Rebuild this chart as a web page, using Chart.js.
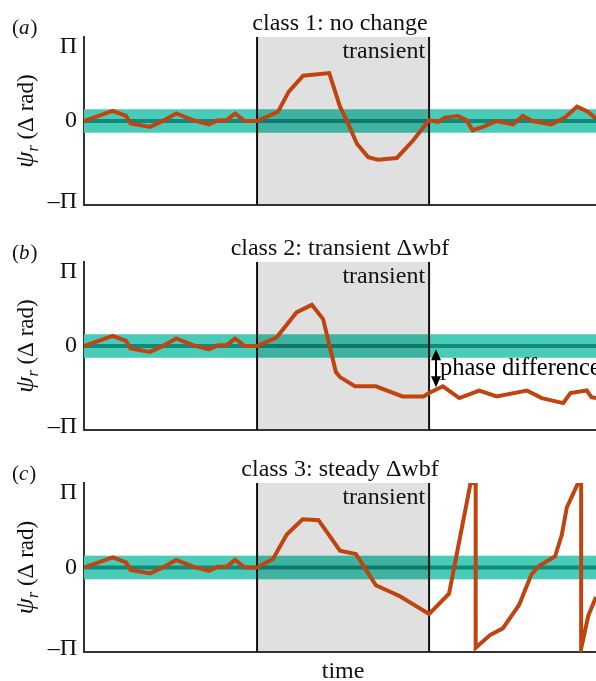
<!DOCTYPE html>
<html>
<head>
<meta charset="utf-8">
<script src="https://cdn.jsdelivr.net/npm/chart.js@4.4.1/dist/chart.umd.min.js"></script>
<style>
  body { margin: 0; background: #fff; width: 596px; height: 681px; overflow: hidden; position: relative; }
  canvas { position: absolute; left: 0; }
</style>
</head>
<body>
<canvas id="panel-a" width="596" height="215" style="top:0px"></canvas>
<canvas id="panel-b" width="596" height="215" style="top:225px"></canvas>
<canvas id="panel-c" width="596" height="235" style="top:446px"></canvas>
<script>
// phase values are in units of PI, time in arbitrary units (0..100)
const timePre = [0, 5.6, 8.2, 9.1, 12.9, 15.4, 18.0, 21.3, 24.4, 26.2, 27.9, 29.5, 31.4, 33.8];
const psiPre = [0, 0.12, 0.06, -0.03, -0.07, 0, 0.09, 0.01, -0.04, 0.01, 0.01, 0.09, 0, 0];

const timeA = [37.9, 40.0, 42.8, 47.9, 50.0, 51.3, 53.3, 55.5, 57.4, 61.1, 64.3, 67.4, 69.1, 70.5, 73.0, 74.7, 75.9, 77.9, 80.6, 83.8, 85.7, 87.6, 91.3, 93.9, 96.3, 98.4, 100];
const psiA = [0.11, 0.35, 0.54, 0.57, 0.17, 0.01, -0.27, -0.43, -0.46, -0.44, -0.23, 0.01, -0.01, 0.04, 0.06, 0.01, -0.11, -0.07, 0, -0.04, 0.06, 0, -0.04, 0.04, 0.17, 0.11, 0.03];

const timeB = [37.6, 41.5, 44.5, 46.7, 49.2, 50.0, 52.9, 57.0, 62.2, 66.3, 67.4, 70.1, 73.3, 77.2, 80.6, 86.5, 89.4, 93.6, 95.0, 98.2, 99.1, 100];
const psiB = [0.10, 0.40, 0.49, 0.32, -0.31, -0.37, -0.48, -0.48, -0.60, -0.60, -0.56, -0.48, -0.62, -0.53, -0.60, -0.53, -0.62, -0.68, -0.56, -0.53, -0.61, -0.62];

const timeC = [36.9, 39.6, 42.7, 45.8, 50.0, 53.1, 57.0, 61.7, 67.4, 71.3, 75.5, 76.5, 76.5, 79.3, 81.8, 85.0, 87.4, 88.9, 92.0, 93.3, 94.3, 96.5, 97.1, 97.1, 98.5, 100];
const psiC = [0.10, 0.39, 0.57, 0.56, 0.20, 0.16, -0.21, -0.34, -0.55, -0.31, 1.0, 1.0, -0.95, -0.80, -0.72, -0.44, -0.08, 0.02, 0.13, 0.38, 0.71, 1.0, 1.0, -0.96, -0.57, -0.35];

const yTickValues = [1, 0, -1];
const yTickLabels = ['Π', '0', '–Π'];

const transientStart = 33.8;
const transientEnd = 67.4;
const bandHalfWidth = 0.14;

// phase difference arrow (panel b)
const phaseArrowTime = 68.75;
const phaseArrowFrom = -0.04;
const phaseArrowTo = -0.49;

const SERIF = '"Liberation Serif", "DejaVu Serif", serif';

function arrowHead(ctx, x, y, dir) {
    ctx.beginPath();
    ctx.moveTo(x, y);
    ctx.lineTo(x - 5, y - dir * 11);
    ctx.lineTo(x + 5, y - dir * 11);
    ctx.closePath();
    ctx.fill();
}

const decorPlugin = {
    id: 'decor',
    beforeDatasetsDraw(chart) {
        const { ctx, chartArea: a, scales: { x, y } } = chart;
        ctx.save();

        // tolerance band + zero line
        const bandTop = y.getPixelForValue(bandHalfWidth);
        const bandBottom = y.getPixelForValue(-bandHalfWidth);
        ctx.fillStyle = '#48ccb8';
        ctx.fillRect(a.left, bandTop, a.right - a.left, bandBottom - bandTop);
        const y0 = y.getPixelForValue(0);
        ctx.strokeStyle = '#10897a';
        ctx.lineWidth = 4;
        ctx.beginPath();
        ctx.moveTo(a.left, y0);
        ctx.lineTo(a.right, y0);
        ctx.stroke();

        // transient window
        const x0 = x.getPixelForValue(transientStart);
        const x1 = x.getPixelForValue(transientEnd);
        ctx.fillStyle = 'rgba(0,0,0,0.12)';
        ctx.fillRect(x0, a.top, x1 - x0, a.bottom - a.top - 1);
        ctx.strokeStyle = '#111';
        ctx.lineWidth = 2;
        ctx.beginPath();
        ctx.moveTo(x0, a.top);
        ctx.lineTo(x0, a.bottom);
        ctx.moveTo(x1, a.top);
        ctx.lineTo(x1, a.bottom);
        ctx.stroke();

        ctx.fillStyle = '#111';
        ctx.font = '24px ' + SERIF;
        ctx.textAlign = 'right';
        ctx.textBaseline = 'alphabetic';
        ctx.fillText('transient', x1 - 4, y.getPixelForValue(0.75));
        ctx.restore();
    },
    afterDraw(chart, args, opts) {
        const { ctx, chartArea: a, scales: { x, y } } = chart;
        ctx.save();
        ctx.fillStyle = '#111';
        ctx.textBaseline = 'alphabetic';

        // title
        ctx.font = '24px ' + SERIF;
        ctx.textAlign = 'center';
        ctx.fillText(opts.title, (a.left + a.right) / 2, 30);

        // panel letter
        ctx.textAlign = 'left';
        ctx.font = '21px ' + SERIF;
        let px = 12;
        ctx.fillText('(', px, 34);
        px += ctx.measureText('(').width;
        ctx.font = 'italic 21px ' + SERIF;
        ctx.fillText(opts.letter, px, 34);
        px += ctx.measureText(opts.letter).width;
        ctx.font = '21px ' + SERIF;
        ctx.fillText(')', px + 1, 34);

        // y tick labels
        ctx.font = '24px ' + SERIF;
        ctx.textAlign = 'right';
        ctx.textBaseline = 'middle';
        yTickValues.forEach((v, i) => {
            let ty = y.getPixelForValue(v);
            ty = Math.min(Math.max(ty, a.top + 10), a.bottom - 3);
            ctx.fillText(yTickLabels[i], a.left - 7, ty);
        });

        // y axis title: psi_r (Δ rad)
        ctx.save();
        ctx.translate(a.left - 57, (a.top + a.bottom) / 2);
        ctx.rotate(-Math.PI / 2);
        ctx.textAlign = 'left';
        ctx.textBaseline = 'alphabetic';
        const fPsi = 'italic 26px ' + SERIF;
        const fSub = 'italic 16px ' + SERIF;
        const fRest = '23px ' + SERIF;
        ctx.font = fPsi; const wPsi = ctx.measureText('ψ').width;
        ctx.font = fSub; const wSub = ctx.measureText('r').width;
        ctx.font = fRest; const wRest = ctx.measureText(' (Δ rad)').width;
        let lx = -(wPsi + wSub + wRest) / 2;
        ctx.font = fPsi; ctx.fillText('ψ', lx, 6); lx += wPsi;
        ctx.font = fSub; ctx.fillText('r', lx, 11); lx += wSub;
        ctx.font = fRest; ctx.fillText(' (Δ rad)', lx, 6);
        ctx.restore();

        // x axis title
        if (opts.xTitle) {
            ctx.font = '24px ' + SERIF;
            ctx.textAlign = 'center';
            ctx.textBaseline = 'alphabetic';
            const mid = (x.getPixelForValue(transientStart) + x.getPixelForValue(transientEnd)) / 2;
            ctx.fillText(opts.xTitle, mid, chart.height - 3);
        }

        // phase difference annotation
        if (opts.phase) {
            const ax = x.getPixelForValue(phaseArrowTime);
            const ay0 = y.getPixelForValue(phaseArrowFrom);
            const ay1 = y.getPixelForValue(phaseArrowTo);
            ctx.strokeStyle = '#000';
            ctx.fillStyle = '#000';
            ctx.lineWidth = 2;
            ctx.beginPath();
            ctx.moveTo(ax, ay0 + 8);
            ctx.lineTo(ax, ay1 - 8);
            ctx.stroke();
            arrowHead(ctx, ax, ay0, -1);
            arrowHead(ctx, ax, ay1, 1);
            ctx.font = '24.5px ' + SERIF;
            ctx.textAlign = 'left';
            ctx.textBaseline = 'alphabetic';
            ctx.fillText('phase difference', ax + 4, y.getPixelForValue(-0.35));
        }
        ctx.restore();
    }
};

function makePanel(id, letter, title, times, psis, axisHeight, extra) {
    const t = timePre.concat(times);
    const p = psiPre.concat(psis);
    const points = t.map((tv, i) => ({ x: tv, y: p[i] }));

    return new Chart(document.getElementById(id), {
        type: 'line',
        data: {
            datasets: [{
                label: 'ψr',
                data: points,
                borderColor: '#c0440f',
                borderWidth: 4,
                pointRadius: 0,
                tension: 0,
                fill: false
            }]
        },
        plugins: [decorPlugin],
        options: {
            responsive: false,
            animation: false,
            events: [],
            layout: { padding: { top: 37, right: 0, left: 0, bottom: 0 } },
            scales: {
                x: {
                    type: 'linear',
                    min: 0,
                    max: 100,
                    z: 1,
                    grid: { display: false },
                    border: { display: true, color: '#333', width: 2 },
                    ticks: { display: false },
                    afterFit(scale) { scale.height = axisHeight; }
                },
                y: {
                    min: -1,
                    max: 1,
                    z: 1,
                    grid: { display: false },
                    border: { display: true, color: '#333', width: 2 },
                    ticks: { display: false },
                    afterFit(scale) { scale.width = 84; }
                }
            },
            plugins: {
                legend: { display: false },
                tooltip: { enabled: false },
                decor: Object.assign({ letter: letter, title: title }, extra || {})
            }
        }
    });
}

makePanel('panel-a', 'a', 'class 1: no change', timeA, psiA, 10);
makePanel('panel-b', 'b', 'class 2: transient Δwbf', timeB, psiB, 10, { phase: true });
makePanel('panel-c', 'c', 'class 3: steady Δwbf', timeC, psiC, 29, { xTitle: 'time' });
</script>
</body>
</html>
